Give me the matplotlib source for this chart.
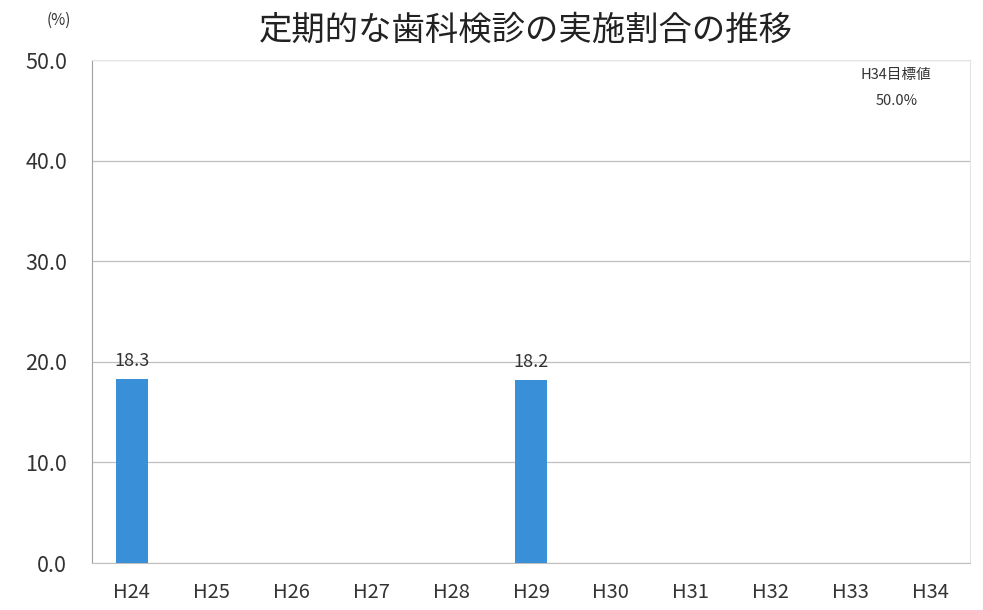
import matplotlib
matplotlib.use('Agg')
import matplotlib.pyplot as plt
import numpy as np

plt.rcParams['font.family'] = ['Noto Sans CJK JP', 'DejaVu Sans']

years = ["H24", "H25", "H26", "H27", "H28", "H29", "H30", "H31", "H32", "H33", "H34"]
rates = [18.3, None, None, None, None, 18.2, None, None, None, None, None]
yticks = [0, 10, 20, 30, 40, 50]

fig = plt.figure(figsize=(9.83, 6.10), dpi=100)
ax = fig.add_axes([0.0936, 0.077, 0.8932, 0.8246])

x = np.arange(len(years))
vals = [v if v is not None else 0 for v in rates]
bars = ax.bar(x, vals, width=0.4, color='#3a8fd9', zorder=3)
for xi, v in zip(x, rates):
    if v is not None:
        ax.text(xi, v + 0.9, f"{v:.1f}", ha='center', va='bottom', fontsize=13, color='#333333')

ax.set_xlim(-0.5, len(years) - 0.5)
ax.set_ylim(0, 50)
ax.set_yticks(yticks)
ax.set_yticklabels([f"{t:.1f}" for t in yticks], fontsize=15.5, color='#333333')
ax.set_xticks(x)
ax.set_xticklabels(years, fontsize=14.5, color='#333333')
ax.tick_params(axis='y', length=0, pad=18)
ax.tick_params(axis='x', length=0, pad=14)
ax.yaxis.grid(True, color='#bfbfbf', linewidth=0.9, zorder=0)

for s in ['top', 'right']:
    ax.spines[s].set_color('#e4e4e4')
    ax.spines[s].set_linewidth(0.8)
ax.spines['left'].set_color('#a0a0a0')
ax.spines['bottom'].set_color('#bfbfbf')

fig.text(0.535, 0.950, "定期的な歯科検診の実施割合の推移", ha='center', va='center', fontsize=24, color='#222222')
fig.text(0.060, 0.966, "(%)", ha='center', va='center', fontsize=11, color='#333333')
ax.text(0.916, 0.985, "H34目標値", transform=ax.transAxes, ha='center', va='top',
        fontsize=10.5, color='#333333')
ax.text(0.916, 0.932, "50.0%", transform=ax.transAxes, ha='center', va='top',
        fontsize=10.5, color='#333333')

plt.savefig('out.png', dpi=100)
plt.close()
